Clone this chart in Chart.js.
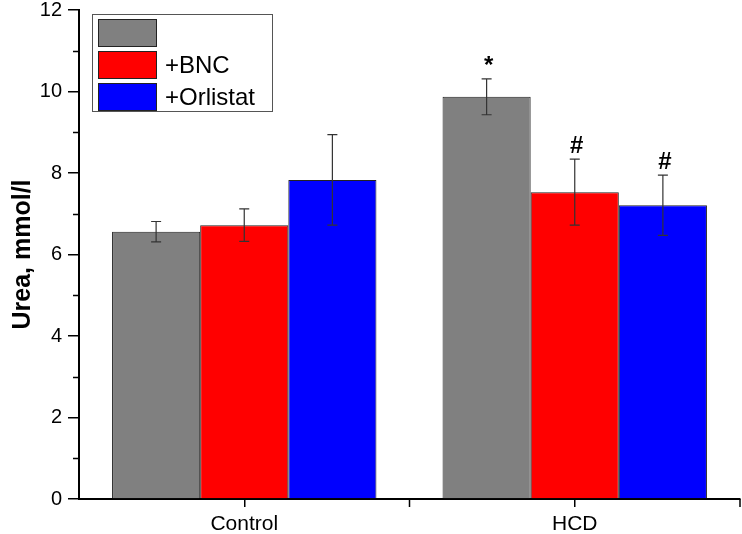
<!DOCTYPE html>
<html>
<head>
<meta charset="utf-8">
<script src="https://cdn.jsdelivr.net/npm/chart.js@4/dist/chart.umd.min.js"></script>
<style>
html,body{margin:0;padding:0;background:#fff;}
canvas{display:block;}
</style>
</head>
<body>
<canvas id="c" width="742" height="534"></canvas>
<script>
// ---- data ----
const categories = ['Control', 'HCD'];
const seriesLabels = ['', '+BNC', '+Orlistat'];
const baseValues = [6.56, 9.87];
const baseErrors = [0.25, 0.44];
const bncValues = [6.72, 7.53];
const bncErrors = [0.40, 0.81];
const orlistatValues = [7.83, 7.21];
const orlistatErrors = [1.11, 0.74];
const baseMarks = ['', '*'];
const bncMarks = ['', '#'];
const orlistatMarks = ['', '#'];
const yTicks = [0, 2, 4, 6, 8, 10, 12];
const yMinorTicks = [1, 3, 5, 7, 9, 11];

const FONT = '"Liberation Sans", Arial, sans-serif';
const colors = ['#808080', '#ff0000', '#0000ff'];
const errorsBySeries = [baseErrors, bncErrors, orlistatErrors];
const marksBySeries = [baseMarks, bncMarks, orlistatMarks];

const extrasPlugin = {
  id: 'extras',
  afterDatasetsDraw(chart) {
    const ctx = chart.ctx;
    const y = chart.scales.y, x = chart.scales.x;
    const ca = chart.chartArea;
    ctx.save();
    // error bars + significance marks
    chart.data.datasets.forEach((ds, di) => {
      const meta = chart.getDatasetMeta(di);
      meta.data.forEach((bar, i) => {
        const v = ds.data[i], e = errorsBySeries[di][i];
        const yt = y.getPixelForValue(v + e), yb = y.getPixelForValue(v - e);
        ctx.strokeStyle = '#333';
        ctx.lineWidth = 1.2;
        ctx.beginPath();
        ctx.moveTo(bar.x, yt); ctx.lineTo(bar.x, yb);
        ctx.moveTo(bar.x - 5, yt); ctx.lineTo(bar.x + 5, yt);
        ctx.moveTo(bar.x - 5, yb); ctx.lineTo(bar.x + 5, yb);
        ctx.stroke();
        const m = marksBySeries[di][i];
        if (m) {
          ctx.fillStyle = '#000';
          ctx.textAlign = 'center';
          ctx.textBaseline = 'alphabetic';
          ctx.font = 'bold 24px ' + FONT;
          ctx.fillText(m, bar.x + 2, yt - 6);
        }
      });
    });
    // minor y ticks
    ctx.strokeStyle = '#000';
    ctx.lineWidth = 1.5;
    ctx.beginPath();
    yMinorTicks.forEach(v => {
      const py = Math.round(y.getPixelForValue(v)) + 0.5;
      ctx.moveTo(ca.left - 6, py); ctx.lineTo(ca.left, py);
    });
    // x boundary ticks
    const n = categories.length;
    const half = (ca.right - ca.left) / (2 * n);
    for (let i = 0; i < n; i++) {
      const px = x.getPixelForValue(i) + half;
      ctx.moveTo(px, ca.bottom); ctx.lineTo(px, ca.bottom + 8);
    }
    ctx.stroke();
    // legend
    const lx = 92.5, ly = 14.5, lw = 180, lh = 97;
    ctx.fillStyle = '#fff';
    ctx.fillRect(lx, ly, lw, lh);
    ctx.strokeStyle = '#555';
    ctx.lineWidth = 1;
    ctx.strokeRect(lx, ly, lw, lh);
    chart.data.datasets.forEach((ds, di) => {
      const ry = 19 + di * 32;
      ctx.fillStyle = ds.backgroundColor;
      ctx.fillRect(98, ry, 59, 28);
      ctx.strokeStyle = '#222';
      ctx.lineWidth = 1;
      ctx.strokeRect(98.5, ry + 0.5, 58, 27);
      ctx.fillStyle = '#000';
      ctx.font = '24px ' + FONT;
      ctx.textAlign = 'left';
      ctx.textBaseline = 'middle';
      ctx.fillText(ds.label, 165, ry + 15);
    });
    ctx.restore();
  }
};

const datasets = [baseValues, bncValues, orlistatValues].map((vals, i) => ({
  label: seriesLabels[i],
  data: vals,
  backgroundColor: colors[i],
  borderColor: '#222',
  borderWidth: 1,
  barPercentage: 1.0,
  categoryPercentage: 0.8
}));

new Chart(document.getElementById('c'), {
  type: 'bar',
  data: { labels: categories, datasets },
  plugins: [extrasPlugin],
  options: {
    responsive: false,
    animation: false,
    layout: { padding: { top: 10, right: 2, left: 0, bottom: 0 } },
    plugins: { legend: { display: false }, tooltip: { enabled: false } },
    scales: {
      x: {
        offset: true,
        grid: { display: true, drawOnChartArea: false, offset: false, tickLength: 8, color: '#000', lineWidth: 1.5 },
        border: { display: true, color: '#000', width: 2 },
        ticks: { color: '#000', font: { family: FONT, size: 21 }, padding: 5 },
        afterFit(s) { s.height = 35; s.paddingLeft = 0; s.paddingRight = 0; }
      },
      y: {
        min: 0, max: 12,
        afterBuildTicks(s) { s.ticks = yTicks.map(v => ({ value: v })); },
        grid: { display: true, drawOnChartArea: false, tickLength: 11, color: '#000', lineWidth: 1.5 },
        border: { display: true, color: '#000', width: 2 },
        ticks: { color: '#000', font: { family: FONT, size: 20, lineHeight: 1 }, padding: 6 },
        title: { display: true, text: 'Urea, mmol/l', color: '#000', font: { family: FONT, size: 25, weight: 'bold' }, padding: { top: 8, bottom: 0 } },
        afterFit(s) { s.width = 79; s.paddingTop = 0; s.paddingBottom = 0; }
      }
    }
  }
});
</script>
</body>
</html>
